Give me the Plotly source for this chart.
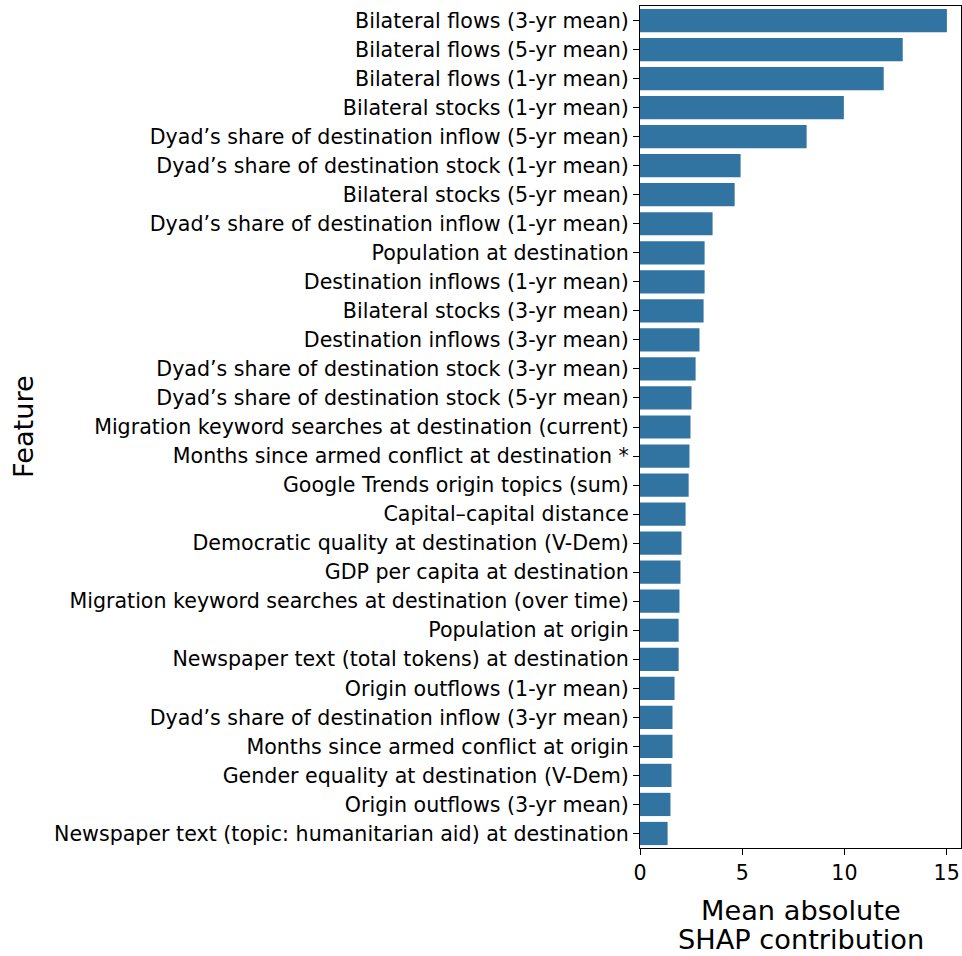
import plotly.graph_objects as go

# Feature importance: mean absolute SHAP contribution per feature (sorted, largest first)
features = [
    "Bilateral flows (3-yr mean)",
    "Bilateral flows (5-yr mean)",
    "Bilateral flows (1-yr mean)",
    "Bilateral stocks (1-yr mean)",
    "Dyad’s share of destination inflow (5-yr mean)",
    "Dyad’s share of destination stock (1-yr mean)",
    "Bilateral stocks (5-yr mean)",
    "Dyad’s share of destination inflow (1-yr mean)",
    "Population at destination",
    "Destination inflows (1-yr mean)",
    "Bilateral stocks (3-yr mean)",
    "Destination inflows (3-yr mean)",
    "Dyad’s share of destination stock (3-yr mean)",
    "Dyad’s share of destination stock (5-yr mean)",
    "Migration keyword searches at destination (current)",
    "Months since armed conflict at destination *",
    "Google Trends origin topics (sum)",
    "Capital–capital distance",
    "Democratic quality at destination (V-Dem)",
    "GDP per capita at destination",
    "Migration keyword searches at destination (over time)",
    "Population at origin",
    "Newspaper text (total tokens) at destination",
    "Origin outflows (1-yr mean)",
    "Dyad’s share of destination inflow (3-yr mean)",
    "Months since armed conflict at origin",
    "Gender equality at destination (V-Dem)",
    "Origin outflows (3-yr mean)",
    "Newspaper text (topic: humanitarian aid) at destination",
]
mean_abs_shap = [
    15.01, 12.85, 11.92, 9.97, 8.15, 4.92, 4.63, 3.55, 3.16, 3.16,
    3.11, 2.91, 2.72, 2.52, 2.47, 2.42, 2.38, 2.23, 2.03, 1.98,
    1.93, 1.89, 1.89, 1.69, 1.59, 1.59, 1.54, 1.49, 1.35,
]
x_ticks = [0, 5, 10, 15]
x_title_lines = ["Mean absolute", "SHAP contribution"]
y_title = "Feature"

FONT = "DejaVu Sans"
BAR_COLOR = "#3274a1"
TICK_SIZE = 20.6
TITLE_SIZE = 27.2

W, H = 962, 956
M_L, M_R, M_T, M_B = 640, 1, 6, 108
plot_w = W - M_L - M_R
plot_h = H - M_T - M_B

fig = go.Figure(
    go.Bar(
        x=mean_abs_shap,
        y=features,
        orientation="h",
        marker=dict(color=BAR_COLOR, line=dict(width=0)),
        hovertemplate="%{y}: %{x:.2f}<extra></extra>",
    )
)

fig.update_layout(
    width=W,
    height=H,
    margin=dict(l=M_L, r=M_R, t=M_T, b=M_B),
    paper_bgcolor="white",
    plot_bgcolor="white",
    bargap=0.2,
    showlegend=False,
    font=dict(family=FONT, color="black", size=TICK_SIZE),
)

axis_style = dict(
    ticks="outside",
    ticklen=6,
    tickwidth=1,
    tickcolor="black",
    tickfont=dict(size=TICK_SIZE),
    showline=True,
    linecolor="black",
    linewidth=1,
    mirror=True,
    showgrid=False,
    zeroline=False,
)

fig.update_xaxes(range=[0, 15.7], tickvals=x_ticks, **axis_style)
fig.update_yaxes(
    categoryorder="array",
    categoryarray=features,
    autorange="reversed",
    **axis_style,
)

# Two-line x-axis title with tight line spacing, centred under the plot
for line, y_px in zip(x_title_lines, [910, 940]):
    fig.add_annotation(
        text=line,
        xref="paper",
        yref="paper",
        x=0.5,
        y=-(y_px - (M_T + plot_h)) / plot_h,
        xanchor="center",
        yanchor="middle",
        showarrow=False,
        font=dict(size=TITLE_SIZE, family=FONT, color="black"),
    )

# Rotated y-axis title at the far left of the figure
fig.add_annotation(
    text=y_title,
    textangle=-90,
    xref="paper",
    yref="paper",
    x=(23 - M_L) / plot_w,
    y=0.5,
    xanchor="center",
    yanchor="middle",
    showarrow=False,
    font=dict(size=TITLE_SIZE, family=FONT, color="black"),
)

fig.write_html("out.html")
